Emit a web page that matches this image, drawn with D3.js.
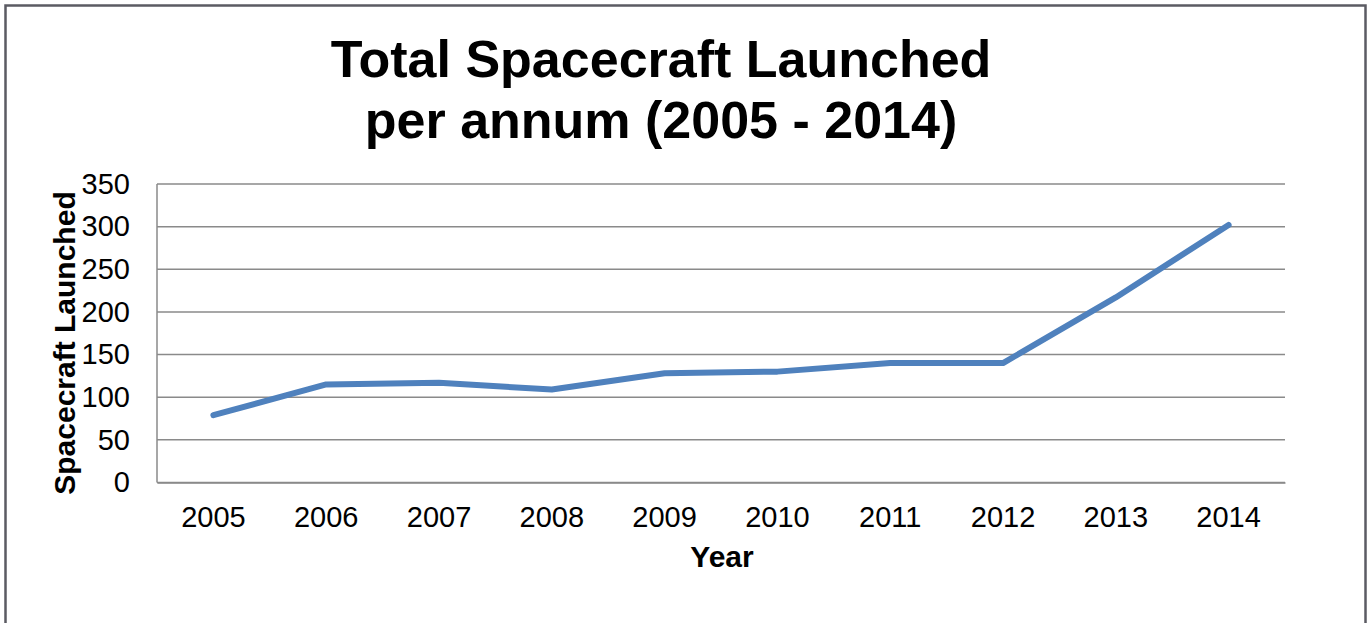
<!DOCTYPE html>
<html>
<head>
<meta charset="utf-8">
<script src="https://cdn.jsdelivr.net/npm/d3@7"></script>
<style>
  html, body { margin: 0; padding: 0; background: #fff; }
  svg { display: block; }
</style>
</head>
<body>
<svg id="chart" width="1368" height="623"></svg>
<script>
const years = ["2005","2006","2007","2008","2009","2010","2011","2012","2013","2014"];
const launched = [79, 115, 117, 109, 128, 130, 140, 140, 217, 302];
const yTicks = [0, 50, 100, 150, 200, 250, 300, 350];
const titleLines = ["Total Spacecraft Launched", "per annum (2005 - 2014)"];
const xTitle = "Year";
const yTitle = "Spacecraft Launched";

(function () {
const svg = d3.select("#chart");
const font = "'Liberation Sans', Arial, sans-serif";

// outer frame
svg.append("rect")
  .attr("x", 5.5).attr("y", 5.5)
  .attr("width", 1360).attr("height", 700)
  .attr("fill", "#fff")
  .attr("stroke", "#5b5b63").attr("stroke-width", 2.5);

const pLeft = 157, pRight = 1285, pTop = 184, pBottom = 482.5;

const x = d3.scaleBand().domain(years).range([pLeft, pRight]).padding(0);
const y = d3.scaleLinear().domain([0, 350]).range([pBottom, pTop]);

// gridlines
svg.append("g").selectAll("line").data(yTicks).join("line")
  .attr("x1", pLeft).attr("x2", pRight)
  .attr("y1", d => y(d)).attr("y2", d => y(d))
  .attr("stroke", "#8a8a8a").attr("stroke-width", 1.5);

// y axis line
svg.append("line").attr("x1", pLeft).attr("x2", pLeft).attr("y1", pTop).attr("y2", pBottom)
  .attr("stroke", "#8a8a8a").attr("stroke-width", 1.5);

// y axis labels
const yAxis = d3.axisLeft(y).tickValues(yTicks).tickSize(0).tickPadding(27);
const yg = svg.append("g").attr("transform", `translate(${pLeft},0)`).call(yAxis);
yg.select(".domain").remove();
yg.selectAll("text").attr("font-family", font).attr("font-size", 29).attr("fill", "#000");

// x axis labels
const xAxis = d3.axisBottom(x).tickSize(0).tickPadding(24);
const xg = svg.append("g").attr("transform", `translate(0,${pBottom})`).call(xAxis);
xg.select(".domain").attr("stroke", "#8a8a8a").attr("stroke-width", 1.5);
xg.selectAll("text").attr("font-family", font).attr("font-size", 29).attr("fill", "#000");

// line
const line = d3.line()
  .x((d, i) => x(years[i]) + x.bandwidth() / 2)
  .y(d => y(d));
svg.append("path").datum(launched)
  .attr("d", line)
  .attr("fill", "none")
  .attr("stroke", "#4f81bd")
  .attr("stroke-width", 6)
  .attr("stroke-linecap", "round")
  .attr("stroke-linejoin", "round");

// title
svg.append("text")
  .attr("x", 661).attr("y", 77)
  .attr("text-anchor", "middle")
  .attr("font-family", font).attr("font-weight", "bold").attr("font-size", 52)
  .selectAll("tspan").data(titleLines).join("tspan")
  .attr("x", 661).attr("dy", (d, i) => i === 0 ? 0 : 61)
  .text(d => d);

// axis titles
svg.append("text")
  .attr("x", 722).attr("y", 567)
  .attr("text-anchor", "middle")
  .attr("font-family", font).attr("font-weight", "bold").attr("font-size", 30)
  .text(xTitle);

svg.append("text")
  .attr("transform", "translate(75,343) rotate(-90)")
  .attr("text-anchor", "middle")
  .attr("font-family", font).attr("font-weight", "bold").attr("font-size", 30)
  .text(yTitle);
})();
</script>
</body>
</html>
